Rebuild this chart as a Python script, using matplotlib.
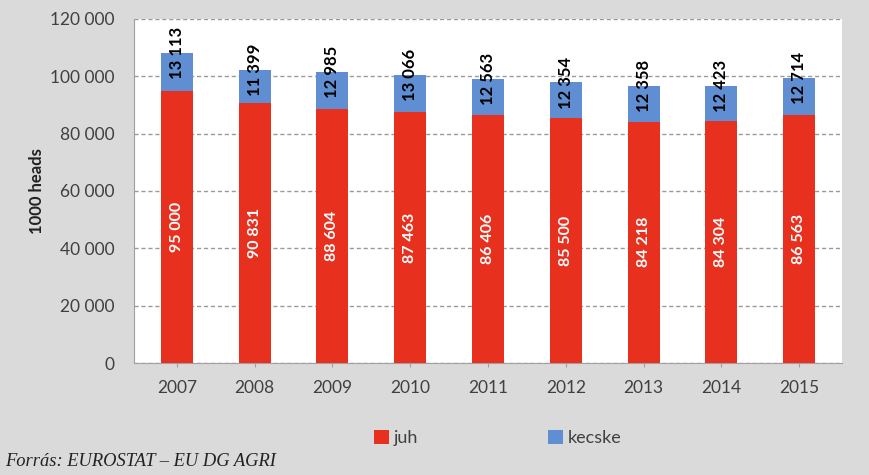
import matplotlib
matplotlib.use("Agg")
import matplotlib.pyplot as plt
import numpy as np

years = ["2007", "2008", "2009", "2010", "2011", "2012", "2013", "2014", "2015"]
juh = [95000, 90831, 88604, 87463, 86406, 85500, 84218, 84304, 86563]
kecske = [13113, 11399, 12985, 13066, 12563, 12354, 12358, 12423, 12714]
yticks = [0, 20000, 40000, 60000, 80000, 100000, 120000]

def fmt(v):
    return f"{v:,}".replace(",", " ")

plt.rcParams['font.family'] = ['Lato', 'DejaVu Sans']
BG = "#dadada"
RED = "#e8301f"
BLUE = "#5f8fd2"

fig = plt.figure(figsize=(8.7, 4.75), dpi=100, facecolor=BG)
ax = fig.add_axes([134/870, 1-363/475, (842-134)/870, (363-19)/475])
ax.set_facecolor("white")

x = np.arange(len(years))
w = 0.41
ax.bar(x, juh, w, color=RED, label="juh", zorder=3)
ax.bar(x, kecske, w, bottom=juh, color=BLUE, label="kecske", zorder=3)

for xi, j, k in zip(x, juh, kecske):
    ax.text(xi, j/2, fmt(j), rotation=90, ha="center", va="center",
            color="white", fontsize=11.5, fontweight="bold", zorder=4)
    ax.text(xi, j + k, fmt(k), rotation=90, ha="center", va="center",
            color="black", fontsize=12, fontweight="bold", zorder=4)

ax.set_ylim(0, 120000)
ax.set_xlim(-0.55, len(years) - 0.45)
ax.set_yticks(yticks)
ax.set_yticklabels([fmt(v) for v in yticks], fontsize=12.5, color="#404040")
ax.set_xticks(x)
ax.set_xticklabels(years, fontsize=12.5, color="#404040")
ax.tick_params(axis="y", length=0, pad=14)
ax.tick_params(axis="x", length=3, color="#a0a0a0", pad=9)
ax.yaxis.grid(True, linestyle=(0, (3, 2)), color="#9a9a9a", linewidth=1, zorder=0)
for s in ["top", "right"]:
    ax.spines[s].set_visible(False)
ax.spines["left"].set_color("#a0a0a0")
ax.spines["bottom"].set_color("#a0a0a0")

ax.set_ylabel("1000 heads", fontsize=12, fontweight="bold", color="#222222", labelpad=4)

leg = fig.legend(loc="center", bbox_to_anchor=(498/870, 1-438/475), ncol=2,
                 frameon=False, fontsize=13, handlelength=0.8, handleheight=0.8,
                 columnspacing=7.2, handletextpad=0.3)
for t in leg.get_texts():
    t.set_color("#404040")

fig.text(5/870, 1-462/475, "Forrás: EUROSTAT – EU DG AGRI", fontsize=13.3,
         style="italic", family="Liberation Serif", color="#222222",
         ha="left", va="center")

fig.savefig("out.png", dpi=100, facecolor=BG)
